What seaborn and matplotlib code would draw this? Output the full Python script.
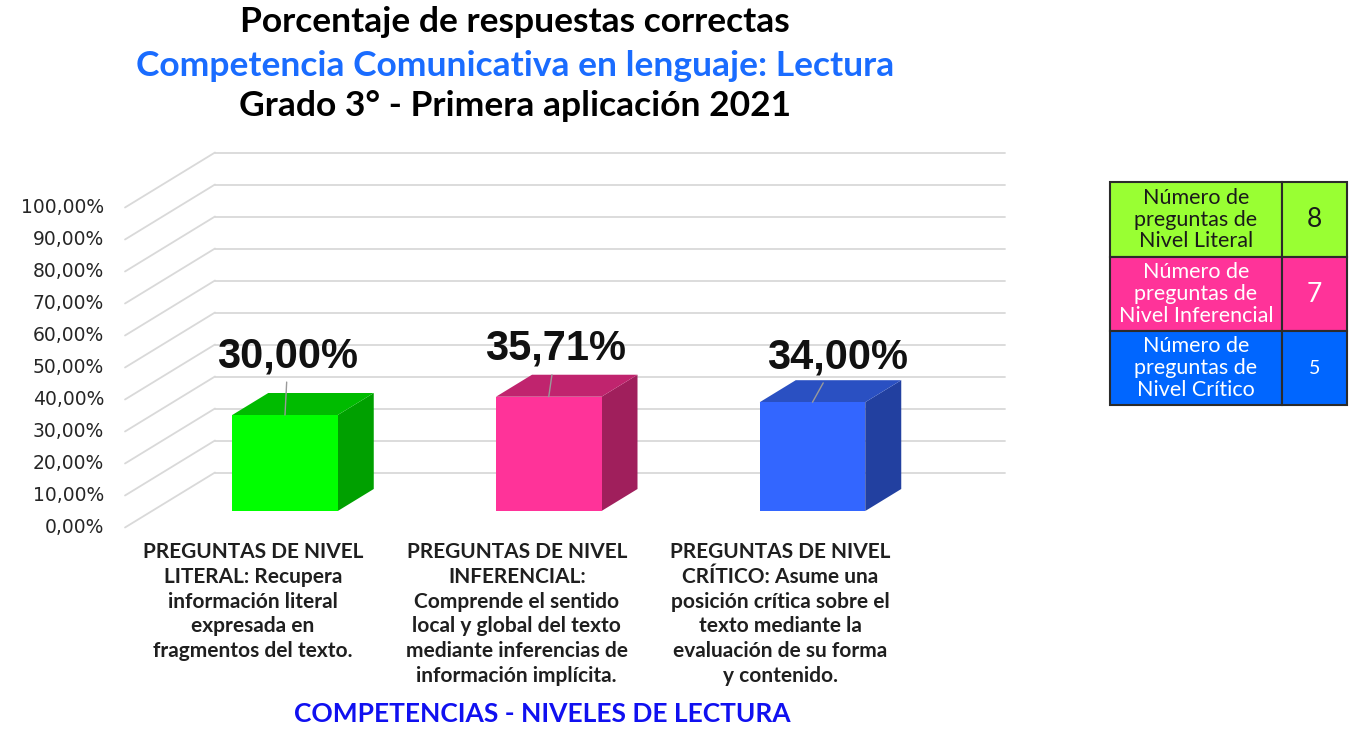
import matplotlib
matplotlib.use("Agg")
import matplotlib.pyplot as plt
import seaborn as sns
import numpy as np
from matplotlib.patches import Polygon, Rectangle

# ---------------- data ----------------
categories = [
    "PREGUNTAS DE NIVEL\nLITERAL: Recupera\ninformación literal\nexpresada en\nfragmentos del texto.",
    "PREGUNTAS DE NIVEL\nINFERENCIAL:\nComprende el sentido\nlocal y global del texto\nmediante inferencias de\ninformación implícita.",
    "PREGUNTAS DE NIVEL\nCRÍTICO: Asume una\nposición crítica sobre el\ntexto mediante la\nevaluación de su forma\ny contenido.",
]
values = [0.30, 0.3571, 0.34]
ytick_values = [0.0, 0.1, 0.2, 0.3, 0.4, 0.5, 0.6, 0.7, 0.8, 0.9, 1.0]
table_labels = [
    "Número de\npreguntas de\nNivel Literal",
    "Número de\npreguntas de\nNivel Inferencial",
    "Número de\npreguntas de\nNivel Crítico",
]
table_counts = [8, 7, 5]

title1 = "Porcentaje de respuestas correctas"
title2 = "Competencia Comunicativa en lenguaje: Lectura"
title3 = "Grado 3° - Primera aplicación 2021"
xtitle = "COMPETENCIAS - NIVELES DE LECTURA"

# ---------------- styles ----------------
front_colors = ["#00ff00", "#ff3399", "#3366ff"]
side_colors = ["#00a000", "#a01f5c", "#2240a0"]
top_colors = ["#00bb00", "#c0246e", "#2a50c2"]
table_colors = ["#99ff33", "#ff3399", "#0066ff"]
table_text_colors = ["#1a1a1a", "white", "white"]
grid_color = "#d9d9d9"

W, H, DPI = 1354, 739, 100
sns.set_theme(style="white")
plt.rcParams["font.family"] = ["DejaVu Sans"]

fig = plt.figure(figsize=(W / DPI, H / DPI), dpi=DPI)
fig.patch.set_facecolor("white")

# axes geometry (pixels from top-left)
UX = 263.75          # px per category
UY = 320.0           # px per 100%
first_center = 285.0
left_px, right_px = 145.0, 1005.0
zero_px, top_px = 511.0, 191.0
ax = fig.add_axes([left_px / W, (H - zero_px) / H, (right_px - left_px) / W, (zero_px - top_px) / H])

# depth vector (data units)
DX = 90.0 / UX
DY = 55.0 / UY
T_FRONT, T_BACK, T_BAR = -0.3, 0.7, 0.4
x_wall_left = (152.0 - first_center) / UX
x_wall_right = (942.0 - first_center) / UX

# front faces via seaborn
xs = list(range(len(values)))
sns.barplot(x=xs, y=values, hue=xs, palette=front_colors, width=0.4, saturation=1,
            legend=False, ax=ax, zorder=3, linewidth=0)
ax.set_xlim((left_px - first_center) / UX, (right_px - first_center) / UX)
ax.set_ylim(0, 1)
ax.axis("off")

# walls: gridlines and value axis labels
for v in ytick_values:
    xf, yf = x_wall_left + T_FRONT * DX, v + T_FRONT * DY
    xb, yb = x_wall_left + T_BACK * DX, v + T_BACK * DY
    ax.plot([xf, xb], [yf, yb], color=grid_color, lw=1.3, zorder=0, clip_on=False)
    ax.plot([xb, x_wall_right + T_BACK * DX], [yb, yb], color=grid_color, lw=1.3, zorder=0, clip_on=False)
    lab = f"{v * 100:.2f}".replace(".", ",") + "%"
    ax.annotate(lab, xy=(xf, yf), xytext=(-21, 0), textcoords="offset pixels",
                ha="right", va="center", fontsize=13.5, color="#262626", annotation_clip=False)

# 3D side and top faces derived from bar geometry
bars = sorted(ax.patches, key=lambda p: p.get_x())
for i, p in enumerate(bars):
    x0, w, h = p.get_x(), p.get_width(), p.get_height()
    x1 = x0 + w
    side = Polygon([(x1, 0), (x1 + T_BAR * DX, T_BAR * DY), (x1 + T_BAR * DX, h + T_BAR * DY), (x1, h)],
                   closed=True, facecolor=side_colors[i], edgecolor="none", zorder=2, clip_on=False)
    top = Polygon([(x0, h), (x1, h), (x1 + T_BAR * DX, h + T_BAR * DY), (x0 + T_BAR * DX, h + T_BAR * DY)],
                  closed=True, facecolor=top_colors[i], edgecolor="none", zorder=2, clip_on=False)
    ax.add_patch(side)
    ax.add_patch(top)

# data labels with leader lines
label_offsets = [(3, 59), (7, 48), (25, 45)]
for i, p in enumerate(bars):
    xc = p.get_x() + p.get_width() / 2
    h = p.get_height()
    txt = f"{values[i] * 100:.2f}".replace(".", ",") + "%"
    dx, dy = label_offsets[i]
    ax.annotate(txt, xy=(xc, h), xytext=(dx, dy), textcoords="offset pixels",
                ha="center", va="center", fontsize=30, fontweight="bold",
                family="Liberation Sans", color="#111111", zorder=6,
                arrowprops=dict(arrowstyle="-", color="#9a9a9a", lw=1.0, shrinkA=2, shrinkB=0),
                annotation_clip=False)

# category labels on the front plane
for i, p in enumerate(bars):
    xc = p.get_x() + p.get_width() / 2
    ax.annotate(categories[i], xy=(xc + T_FRONT * DX, T_FRONT * DY), xytext=(-5, -15),
                textcoords="offset pixels", ha="center", va="top", fontsize=15,
                fontweight="bold", family="Lato", color="#1f1f1f", linespacing=1.29,
                annotation_clip=False)

# titles
def fy(py):
    return 1 - py / H

fig.text(515 / W, fy(22), title1, ha="center", va="center", fontsize=25.5, fontweight="bold",
         family="Lato", color="black")
fig.text(515 / W, fy(66), title2, ha="center", va="center", fontsize=25.5, fontweight="bold",
         family="Lato", color="#1a6cff")
fig.text(515 / W, fy(106), title3, ha="center", va="center", fontsize=25.5, fontweight="bold",
         family="Lato", color="black")
fig.text(542 / W, fy(714), xtitle, ha="center", va="center", fontsize=19, fontweight="bold",
         family="Lato", color="#1010f0")

# side table
col_x = [1110, 1282, 1347]
row_y = [182, 257, 331, 405]
count_sizes = [19, 19, 14]
for r in range(3):
    ytop, ybot = row_y[r], row_y[r + 1]
    for c in range(2):
        rect = Rectangle((col_x[c] / W, fy(ybot)), (col_x[c + 1] - col_x[c]) / W, (ybot - ytop) / H,
                         transform=fig.transFigure, facecolor=table_colors[r],
                         edgecolor="#2b2b2b", lw=1.5)
        fig.patches.append(rect)
    yc = fy((ytop + ybot) / 2)
    fig.text((col_x[0] + col_x[1]) / 2 / W, yc, table_labels[r], ha="center", va="center",
             fontsize=15.5, family="Lato", color=table_text_colors[r], linespacing=1.1)
    fig.text((col_x[1] + col_x[2]) / 2 / W, yc, str(table_counts[r]), ha="center", va="center",
             fontsize=count_sizes[r], family="Lato", color=table_text_colors[r])

fig.savefig("out.png", dpi=DPI, facecolor="white")
